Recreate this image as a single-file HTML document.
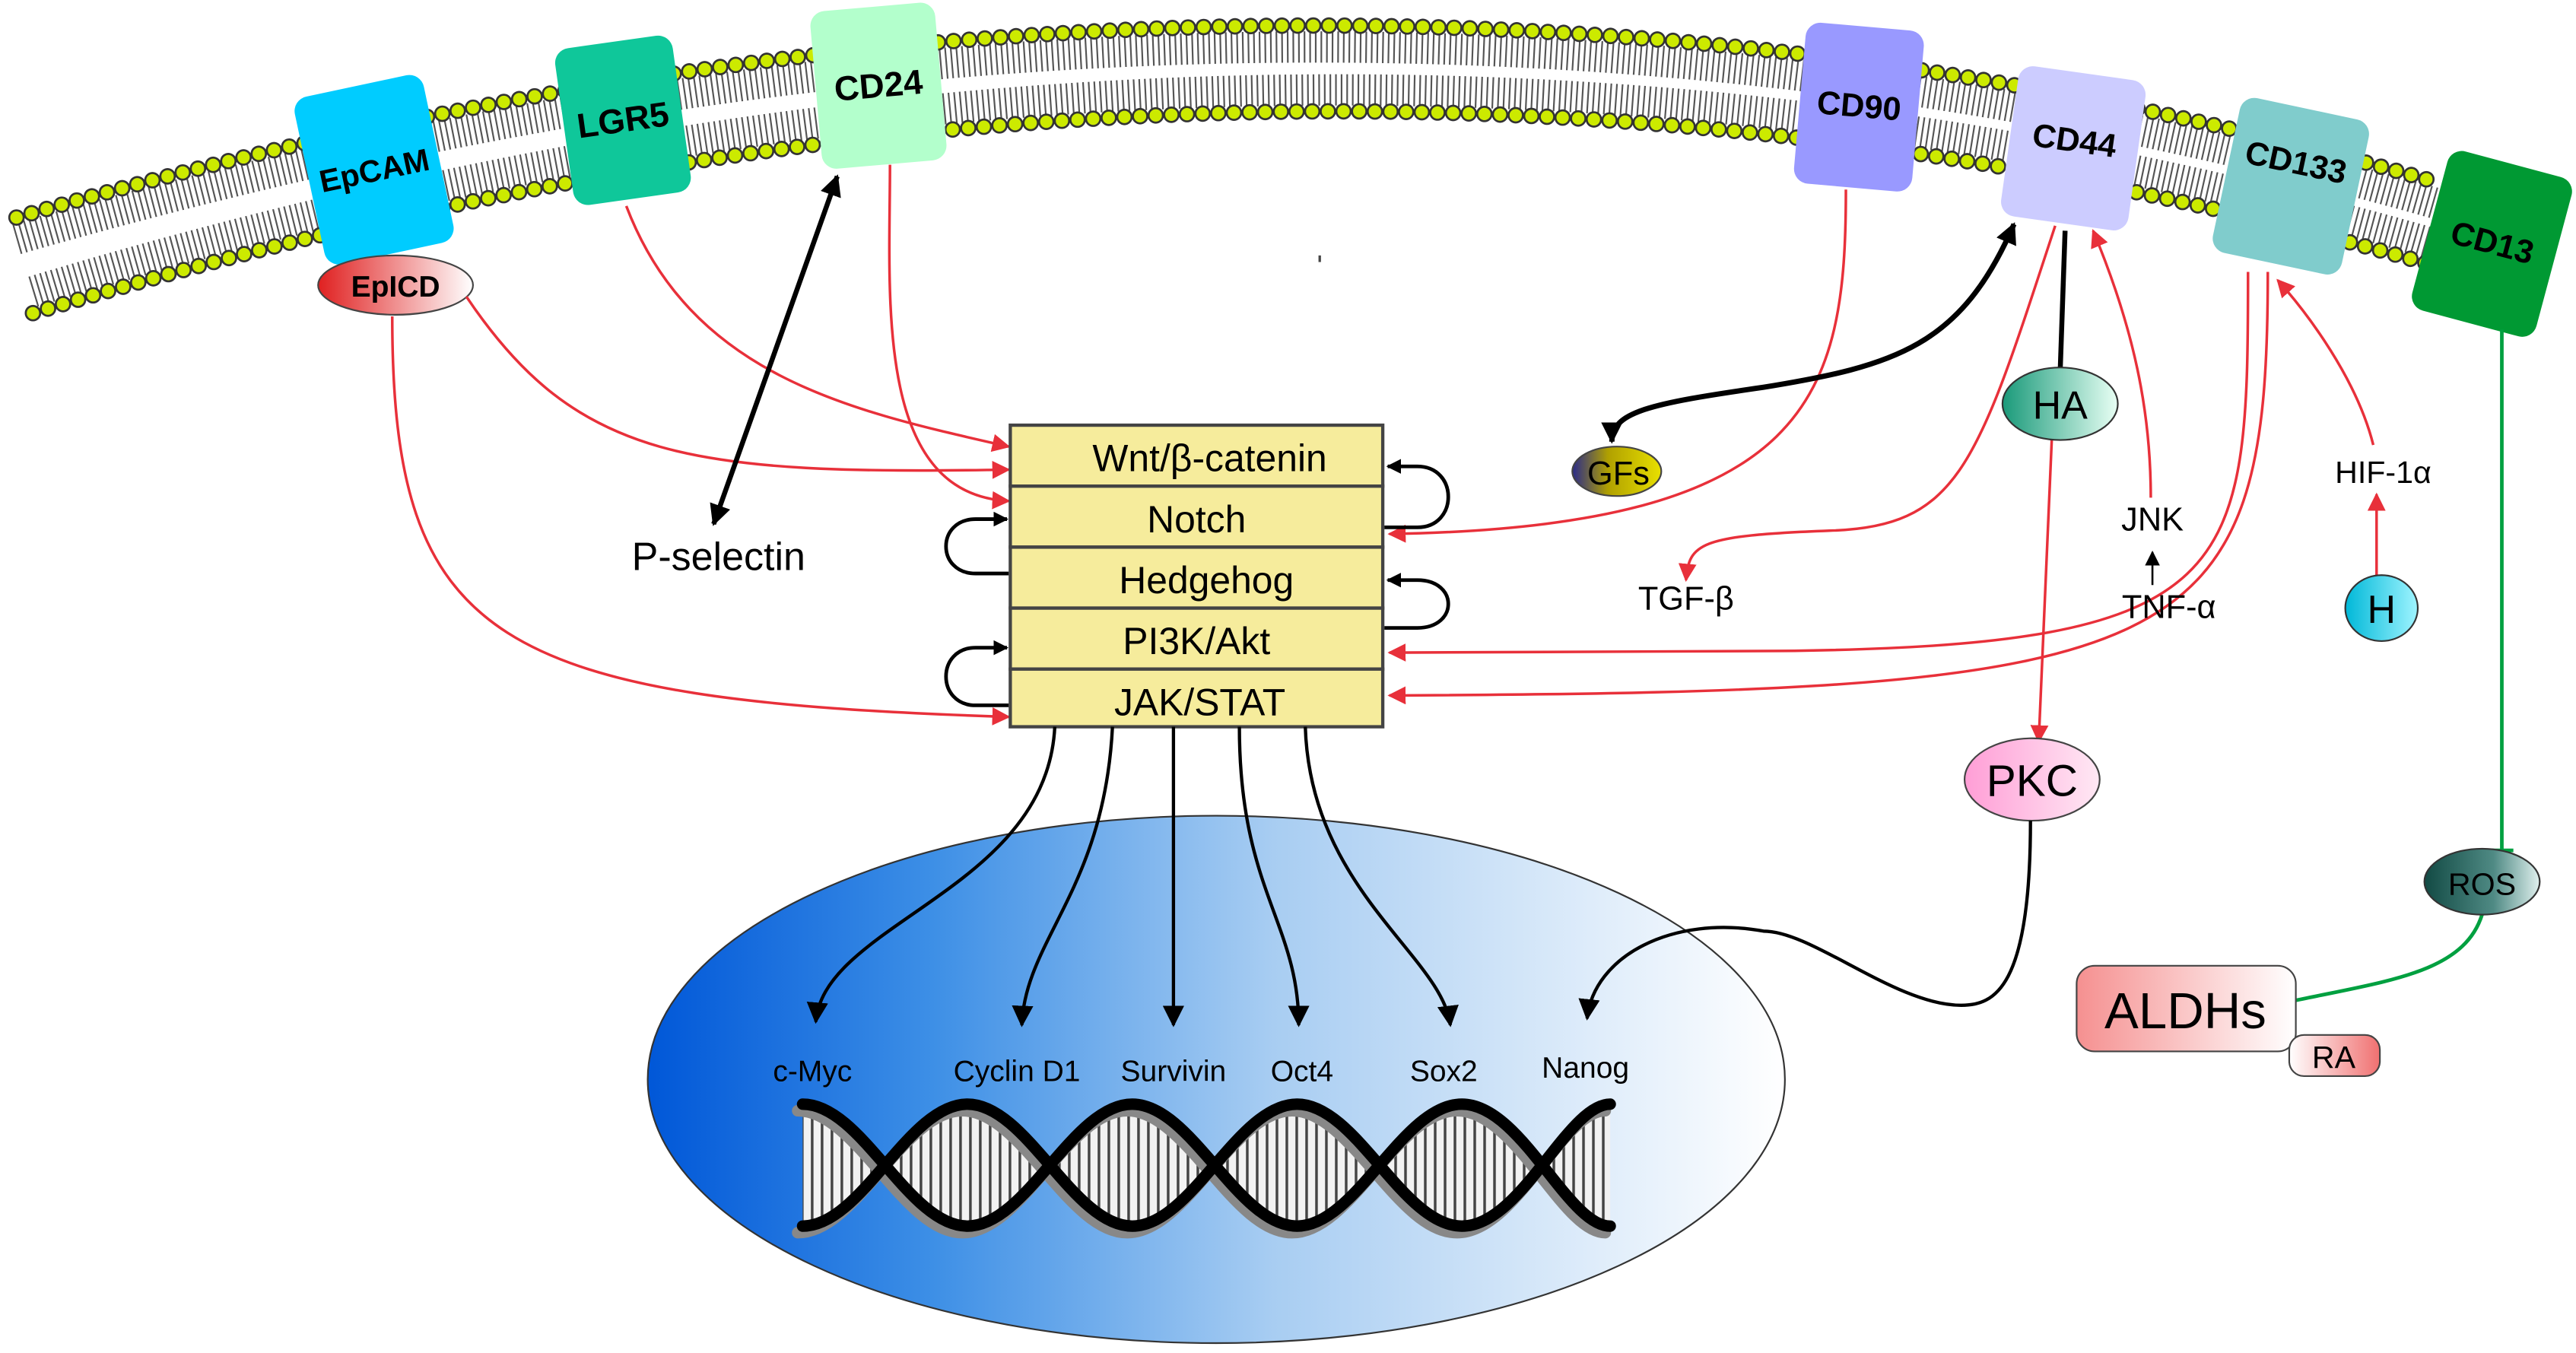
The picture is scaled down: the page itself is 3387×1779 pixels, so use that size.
<!DOCTYPE html>
<html><head><meta charset="utf-8"><style>
html,body{margin:0;padding:0;background:#fff;}
svg{display:block;}
text{font-family:"Liberation Sans",Arial,sans-serif;}
</style></head><body>
<svg width="3387" height="1779" viewBox="0 0 1563 821" preserveAspectRatio="none" xmlns="http://www.w3.org/2000/svg">
<defs>
<marker id="ar" viewBox="0 0 10 10" refX="9" refY="5" markerWidth="11" markerHeight="11" markerUnits="userSpaceOnUse" orient="auto-start-reverse"><path d="M0,0 L10,5 L0,10 z" fill="#e8303a"/></marker>
<marker id="ab" viewBox="0 0 10 10" refX="9" refY="5" markerWidth="13" markerHeight="13" markerUnits="userSpaceOnUse" orient="auto-start-reverse"><path d="M0,0 L10,5 L0,10 z" fill="#000"/></marker>
<marker id="abs" viewBox="0 0 10 10" refX="9" refY="5" markerWidth="9" markerHeight="9" markerUnits="userSpaceOnUse" orient="auto-start-reverse"><path d="M0,0 L10,5 L0,10 z" fill="#000"/></marker>
<linearGradient id="nuc" x1="0" x2="1" y1="0" y2="0"><stop offset="0" stop-color="#0057d8"/><stop offset="0.25" stop-color="#3d8fe6"/><stop offset="0.55" stop-color="#a8cdf2"/><stop offset="1" stop-color="#ffffff"/></linearGradient>
<linearGradient id="red" x1="0" x2="1"><stop offset="0" stop-color="#e02020"/><stop offset="1" stop-color="#fff"/></linearGradient>
<linearGradient id="pink" x1="0" x2="1"><stop offset="0" stop-color="#f59090"/><stop offset="1" stop-color="#fff"/></linearGradient>
<linearGradient id="pink2" x1="0" x2="1"><stop offset="0" stop-color="#fff"/><stop offset="1" stop-color="#f07070"/></linearGradient>
<linearGradient id="ha" x1="0" x2="1"><stop offset="0" stop-color="#1a9a7a"/><stop offset="1" stop-color="#e8fff4"/></linearGradient>
<linearGradient id="gf" x1="0" x2="1"><stop offset="0" stop-color="#2a2a8a"/><stop offset="0.4" stop-color="#b0a000"/><stop offset="1" stop-color="#e8e000"/></linearGradient>
<linearGradient id="ros" x1="0" x2="1"><stop offset="0" stop-color="#124a44"/><stop offset="0.6" stop-color="#4f8a84"/><stop offset="1" stop-color="#e0f0ee"/></linearGradient>
<linearGradient id="hh" x1="0" x2="1"><stop offset="0" stop-color="#00b8d8"/><stop offset="1" stop-color="#9ff4ff"/></linearGradient>
<linearGradient id="pkc" x1="0" x2="1"><stop offset="0" stop-color="#ff9ed6"/><stop offset="1" stop-color="#ffe8f4"/></linearGradient>
<pattern id="rung" width="6" height="10" patternUnits="userSpaceOnUse"><rect width="6" height="10" fill="#f2f2f2"/><rect x="0" width="1.6" height="10" fill="#444"/></pattern>
</defs>

<!-- membrane -->
<g fill="none">
<path d="M10,145 Q780,-77 1480,124" stroke="#555" stroke-width="19" stroke-dasharray="1 2.4"/>
<path d="M20,177 Q780,-53 1480,149" stroke="#555" stroke-width="19" stroke-dasharray="1 2.4"/>
<path d="M10,132 Q780,-90 1480,111" stroke="#333" stroke-width="10" stroke-dasharray="0 9.5" stroke-linecap="round"/>
<path d="M10,132 Q780,-90 1480,111" stroke="#ccea00" stroke-width="7.5" stroke-dasharray="0 9.5" stroke-linecap="round"/>
<path d="M20,190 Q780,-40 1480,162" stroke="#333" stroke-width="10" stroke-dasharray="0 9.5" stroke-linecap="round"/>
<path d="M20,190 Q780,-40 1480,162" stroke="#ccea00" stroke-width="7.5" stroke-dasharray="0 9.5" stroke-linecap="round"/>
</g>

<!-- proteins -->
<g font-weight="bold" font-size="19" text-anchor="middle">
<g transform="translate(227,103) rotate(-12)"><rect x="-40" y="-52" width="80" height="104" rx="9" fill="#00ccff"/><text y="7">EpCAM</text></g>
<g transform="translate(378,73) rotate(-8)"><rect x="-36" y="-48" width="72" height="96" rx="9" fill="#0fc79a"/><text y="7" font-size="21">LGR5</text></g>
<g transform="translate(533,52) rotate(-5)"><rect x="-38" y="-48" width="76" height="96" rx="9" fill="#b3ffcc"/><text y="7" font-size="21">CD24</text></g>
<g transform="translate(1128,64) rotate(5)"><rect x="-36" y="-48" width="72" height="98" rx="9" fill="#9999ff"/><text y="7" font-size="20">CD90</text></g>
<g transform="translate(1258,90) rotate(8)"><rect x="-39" y="-46" width="78" height="92" rx="9" fill="#ccccff"/><text y="2" font-size="20">CD44</text></g>
<g transform="translate(1390,113) rotate(12)"><rect x="-40" y="-48" width="80" height="96" rx="9" fill="#80cccc"/><text y="-8" font-size="20">CD133</text></g>
<g transform="translate(1512,148) rotate(15)"><rect x="-39" y="-50" width="78" height="100" rx="9" fill="#009933"/><text y="6" font-size="20">CD13</text></g>
</g>

<!-- EpICD -->
<ellipse cx="240" cy="173" rx="47" ry="18" fill="url(#red)" stroke="#444" stroke-width="1"/>
<text x="240" y="180" font-size="18" font-weight="bold" text-anchor="middle">EpICD</text>

<!-- red connectors -->
<g fill="none" stroke="#e8303a" stroke-width="1.6" marker-end="url(#ar)">
<path d="M380,125 C420,230 520,250 612,271"/>
<path d="M283,180 C350,280 420,288 612,285"/>
<path d="M540,100 C540,180 530,300 612,304"/>
<path d="M238,192 C238,390 300,425 612,435"/>
<path d="M1120,115 C1120,240 1100,320 843,324"/>
<path d="M1247,137 C1200,280 1190,320 1110,322 C1030,325 1025,330 1023,352"/>
<path d="M1364,165 C1364,350 1360,392 1080,395 L843,396"/>
<path d="M1376,165 C1376,400 1330,420 843,422"/>
<path d="M1245,265 L1237,450"/>
<path d="M1305,302 C1305,250 1295,200 1270,140"/>
<path d="M1440,270 C1430,230 1400,190 1382,170"/>
<path d="M1442,352 L1442,300"/>
</g>

<!-- box -->
<g stroke="#444" stroke-width="2" fill="#f6ec9c">
<rect x="613" y="258" width="226" height="37"/>
<rect x="613" y="295" width="226" height="37"/>
<rect x="613" y="332" width="226" height="37"/>
<rect x="613" y="369" width="226" height="37"/>
<rect x="613" y="406" width="226" height="35"/>
</g>
<g font-size="23" text-anchor="middle">
<text x="734" y="286">Wnt/β-catenin</text>
<text x="726" y="323">Notch</text>
<text x="732" y="360">Hedgehog</text>
<text x="726" y="397">PI3K/Akt</text>
<text x="728" y="434">JAK/STAT</text>
</g>

<!-- self loops -->
<g fill="none" stroke="#000" stroke-width="2.2" marker-end="url(#abs)">
<path d="M840,320 L860,320 C885,320 885,283 860,283 L842,283"/>
<path d="M840,381 L860,381 C885,381 885,352 860,352 L842,352"/>
<path d="M612,348 L592,348 C568,348 568,315 592,315 L611,315"/>
<path d="M612,428 L592,428 C568,428 568,393 592,393 L611,393"/>
</g>

<!-- black connectors -->
<g fill="none" stroke="#000">
<path d="M508,107 L433,318" stroke-width="3" marker-start="url(#ab)" marker-end="url(#ab)"/>
<path d="M1222,136 C1190,210 1150,222 1070,235 C1000,245 978,250 978,268" stroke-width="3.2" marker-start="url(#ab)" marker-end="url(#ab)"/>
<path d="M1253,140 L1250,226" stroke-width="3"/>
<path d="M1306,355 L1306,335" stroke-width="1.2" marker-end="url(#abs)"/>
</g>
<text x="436" y="346" font-size="24" text-anchor="middle">P-selectin</text>
<text x="1023" y="370" font-size="20" text-anchor="middle">TGF-β</text>
<text x="1306" y="322" font-size="20" text-anchor="middle">JNK</text>
<text x="1316" y="375" font-size="20" text-anchor="middle">TNF-α</text>
<text x="1446" y="293" font-size="19" text-anchor="middle">HIF-1α</text>

<ellipse cx="981" cy="286" rx="27" ry="15" fill="url(#gf)" stroke="#444" stroke-width="1"/>
<text x="982" y="294" font-size="20" text-anchor="middle">GFs</text>
<ellipse cx="1250" cy="245" rx="35" ry="22" fill="url(#ha)" stroke="#333" stroke-width="1"/>
<text x="1250" y="254" font-size="24" text-anchor="middle">HA</text>
<ellipse cx="1445" cy="369" rx="22" ry="20" fill="url(#hh)" stroke="#333" stroke-width="1"/>
<text x="1445" y="378" font-size="24" text-anchor="middle">H</text>

<!-- green -->
<g fill="none" stroke="#00a040" stroke-width="2.2">
<path d="M1518,200 L1518,516"/>
<path d="M1511,516 L1525,516"/>
<path d="M1506,555 C1495,590 1450,595 1393,607"/>
</g>
<ellipse cx="1506" cy="535" rx="35" ry="20" fill="url(#ros)" stroke="#333" stroke-width="1"/>
<text x="1506" y="543" font-size="19" text-anchor="middle">ROS</text>
<rect x="1260" y="586" width="133" height="52" rx="11" fill="url(#pink)" stroke="#444" stroke-width="1"/>
<text x="1326" y="624" font-size="31" text-anchor="middle">ALDHs</text>
<rect x="1389" y="628" width="55" height="25" rx="9" fill="url(#pink2)" stroke="#444" stroke-width="1"/>
<text x="1416" y="648" font-size="19" text-anchor="middle">RA</text>

<!-- nucleus -->
<ellipse cx="738" cy="655" rx="345" ry="160" fill="url(#nuc)" stroke="#333" stroke-width="1"/>

<!-- PKC -->
<ellipse cx="1233" cy="473" rx="41" ry="25" fill="url(#pkc)" stroke="#444" stroke-width="1"/>
<text x="1233" y="483" font-size="27" text-anchor="middle">PKC</text>

<g fill="none" stroke="#000" stroke-width="2" marker-end="url(#ab)">
<path d="M640,441 C635,540 500,560 495,620"/>
<path d="M675,441 C670,540 622,570 620,622"/>
<path d="M712,441 L712,622"/>
<path d="M752,441 C752,540 788,560 788,622"/>
<path d="M792,441 C795,540 875,580 880,622"/>
<path d="M1232,498 C1232,600 1210,610 1190,610 C1150,610 1100,565 1070,565 C1015,555 967,580 963,618"/>
</g>
<g font-size="18" text-anchor="middle">
<text x="493" y="656">c-Myc</text>
<text x="617" y="656">Cyclin D1</text>
<text x="712" y="656">Survivin</text>
<text x="790" y="656">Oct4</text>
<text x="876" y="656">Sox2</text>
<text x="962" y="654">Nanog</text>
</g>

<!-- DNA -->
<path d="M487,670 C523,670 551,744 587,744 C623,744 651,670 687,670 C723,670 751,744 787,744 C823,744 851,670 887,670 C923,670 951,744 977,744 L977,670 C951,670 923,744 887,744 C851,744 823,670 787,670 C751,670 723,744 687,744 C651,744 623,670 587,670 C551,670 523,744 487,744 Z" fill="url(#rung)" stroke="none"/>
<g fill="none" stroke-width="7" stroke-linecap="round">
<g stroke="#888" transform="translate(-3,4)">
<path d="M487,670 C523,670 551,744 587,744 C623,744 651,670 687,670 C723,670 751,744 787,744 C823,744 851,670 887,670 C923,670 951,744 977,744"/>
<path d="M487,744 C523,744 551,670 587,670 C623,670 651,744 687,744 C723,744 751,670 787,670 C823,670 851,744 887,744 C923,744 951,670 977,670"/>
</g>
<g stroke="#000">
<path d="M487,670 C523,670 551,744 587,744 C623,744 651,670 687,670 C723,670 751,744 787,744 C823,744 851,670 887,670 C923,670 951,744 977,744"/>
<path d="M487,744 C523,744 551,670 587,670 C623,670 651,744 687,744 C723,744 751,670 787,670 C823,670 851,744 887,744 C923,744 951,670 977,670"/>
</g>
</g>
<rect x="800" y="155" width="1.5" height="4" fill="#444"/>
</svg>
</body></html>
